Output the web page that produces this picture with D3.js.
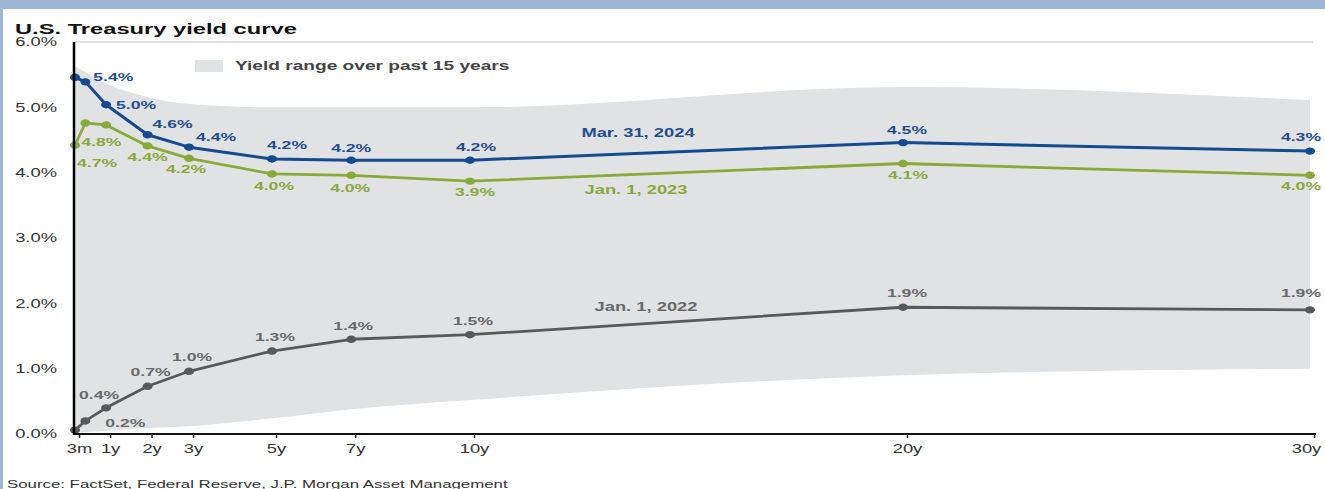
<!DOCTYPE html>
<html>
<head>
<meta charset="utf-8">
<script src="https://cdn.jsdelivr.net/npm/d3@7"></script>
<style>
  html, body { margin: 0; padding: 0; background: #fff; }
  svg { display: block; font-family: "Liberation Sans", Arial, Helvetica, sans-serif; }
</style>
</head>
<body>
<svg id="chart" width="1325" height="489"></svg>
<script>
// Maturities along the curve (years) and their axis labels
const maturities   = ["3m", "6m", "1y", "2y", "3y", "5y", "7y", "10y", "20y", "30y"];
const maturityYears = [0.25, 0.5, 1, 2, 3, 5, 7, 10, 20, 30];
const tickYears  = [0.25, 1, 2, 3, 5, 7, 10, 20, 30];
const tickLabels = ["3m", "1y", "2y", "3y", "5y", "7y", "10y", "20y", "30y"];
const yTicks = [0, 1, 2, 3, 4, 5, 6];

// Yields (%) by maturity
const yieldsMar2024 = [5.46, 5.39, 5.04, 4.58, 4.39, 4.21, 4.19, 4.19, 4.46, 4.33];
const yieldsJan2023 = [4.42, 4.76, 4.73, 4.41, 4.22, 3.98, 3.96, 3.87, 4.14, 3.96];
const yieldsJan2022 = [0.06, 0.20, 0.40, 0.73, 0.96, 1.27, 1.45, 1.52, 1.94, 1.90];

// 15-year high / low by maturity (%)
const rangeHigh = [5.63, 5.54, 5.37, 5.16, 5.05, 5.00, 5.00, 5.00, 5.31, 5.11];
const rangeLow  = [0.02, 0.03, 0.05, 0.09, 0.12, 0.24, 0.38, 0.52, 0.90, 1.00];

const seriesNames = ["Mar. 31, 2024", "Jan. 1, 2023", "Jan. 1, 2022"];

// Label offsets (px) relative to each point; null = no label
const labelOffsetsMar2024 = [null, [28, -5], [30, 0], [25, -11], [27, -10], [15, -14], [0, -12], [6, -13], [4, -13], [-9, -14]];
const labelOffsetsJan2023 = [null, [16, 19], [-9, 38], [0, 11], [-3, 11], [2, 12], [-1, 13], [5, 11], [5, 11], [-9, 11]];
const labelOffsetsJan2022 = [null, [40, 2], [-7, -13], [3, -14], [3, -14], [3, -14], [2, -13], [3, -14], [4, -14], [-9, -17]];

const W = 1325, H = 489;
const SX = 1.53; // horizontal stretch of all lettering

const svg = d3.select("#chart");

// page frame
svg.append("rect").attr("width", W).attr("height", H).attr("fill", "#fff");
svg.append("rect").attr("width", W).attr("height", 9).attr("fill", "#9db6d6");
svg.append("rect").attr("width", 3).attr("height", H).attr("fill", "#9db6d6");

const x = d3.scaleLinear().domain([0.25, 5, 10, 20, 30]).range([75, 272, 470, 903, 1310]);
const y = d3.scaleLinear().domain([0, 6]).range([434, 42]);

function wideText(parent, px, py, str, o) {
  return parent.append("text")
    .attr("transform", `translate(${px},${py}) scale(${SX},1)`)
    .attr("text-anchor", o.anchor || "start")
    .attr("dy", o.dy || "0.35em")
    .attr("font-size", o.size)
    .attr("font-weight", o.weight || "normal")
    .attr("fill", o.color || "#333")
    .text(str);
}

// title
wideText(svg, 15, 29, "U.S. Treasury yield curve", { size: 15.5, weight: "bold", color: "#111", dy: 0 });

// top gridline
svg.append("line")
  .attr("x1", 74).attr("x2", 1313)
  .attr("y1", y(6)).attr("y2", y(6))
  .attr("stroke", "#d4d4d4").attr("stroke-width", 1.5);

// 15-year range band
const idx = d3.range(maturityYears.length);
const band = d3.area()
  .x(i => x(maturityYears[i]))
  .y0(i => y(rangeLow[i]))
  .y1(i => y(rangeHigh[i]))
  .curve(d3.curveMonotoneX);
svg.append("path").attr("d", band(idx)).attr("fill", "#e1e2e4");

// legend
svg.append("rect").attr("x", 195).attr("y", 60).attr("width", 28).attr("height", 12).attr("fill", "#e1e2e4");
wideText(svg, 235, 66, "Yield range over past 15 years", { size: 12.5, weight: "bold", color: "#444" });

const fmt = d3.format(".1f");
const series = [
  { values: yieldsJan2022, offsets: labelOffsetsJan2022, line: "#58595b", label: "#666a6e", width: 2.8, name: seriesNames[2], nameAt: [646, 307] },
  { values: yieldsJan2023, offsets: labelOffsetsJan2023, line: "#88aa38", label: "#88aa38", width: 2.8, name: seriesNames[1], nameAt: [636, 190] },
  { values: yieldsMar2024, offsets: labelOffsetsMar2024, line: "#134a92", label: "#1f4e8e", width: 3, name: seriesNames[0], nameAt: [638, 133] }
];

const line = d3.line()
  .x(i => x(maturityYears[i]))
  .curve(d3.curveLinear);

series.forEach(s => {
  const g = svg.append("g");
  g.append("path")
    .attr("d", line.y(i => y(s.values[i]))(idx))
    .attr("fill", "none")
    .attr("stroke", s.line)
    .attr("stroke-width", s.width)
    .attr("stroke-linejoin", "round");
  g.selectAll("ellipse").data(idx).join("ellipse")
    .attr("cx", i => x(maturityYears[i]))
    .attr("cy", i => y(s.values[i]))
    .attr("rx", 5).attr("ry", 3.7)
    .attr("fill", s.line);
  idx.forEach(i => {
    const off = s.offsets[i];
    if (!off) return;
    wideText(g, x(maturityYears[i]) + off[0], y(s.values[i]) + off[1], fmt(s.values[i]) + "%",
      { size: 11.5, weight: "bold", color: s.label, anchor: "middle" });
  });
  wideText(g, s.nameAt[0], s.nameAt[1], s.name, { size: 12, weight: "bold", color: s.label, anchor: "middle" });
});

// x axis
const xAxis = d3.axisBottom(x)
  .tickValues(tickYears)
  .tickFormat((d, i) => tickLabels[i])
  .tickSize(4)
  .tickSizeOuter(0)
  .tickPadding(6);
const gx = svg.append("g").attr("transform", "translate(4,434)").call(xAxis);
gx.select(".domain").remove();
gx.selectAll(".tick line").attr("stroke", "#222").attr("stroke-width", 1.5);
gx.selectAll(".tick text")
  .attr("font-size", 12).attr("fill", "#333")
  .attr("font-family", "Liberation Sans, Arial, sans-serif")
  .attr("x", (d, i) => (i === tickYears.length - 1 ? -8 : 0) / SX)
  .attr("transform", `scale(${SX},1)`);
svg.append("line")
  .attr("x1", 73).attr("x2", 1316).attr("y1", 434).attr("y2", 434)
  .attr("stroke", "#111").attr("stroke-width", 2);

// y axis
const yAxis = d3.axisLeft(y)
  .tickValues(yTicks)
  .tickFormat(d => fmt(d) + "%")
  .tickSize(0)
  .tickPadding(0);
const gy = svg.append("g").attr("transform", "translate(74,0)").call(yAxis);
gy.select(".domain").remove();
gy.selectAll(".tick text")
  .attr("font-size", 12).attr("fill", "#333")
  .attr("font-family", "Liberation Sans, Arial, sans-serif")
  .attr("x", -17 / SX)
  .attr("transform", `scale(${SX},1)`);
svg.append("line")
  .attr("x1", 74).attr("x2", 74).attr("y1", 42).attr("y2", 435)
  .attr("stroke", "#000").attr("stroke-width", 2.5);

// source note
wideText(svg, 7, 484, "Source: FactSet, Federal Reserve, J.P. Morgan Asset Management", { size: 11, color: "#333", dy: 0 });
</script>
</body>
</html>
